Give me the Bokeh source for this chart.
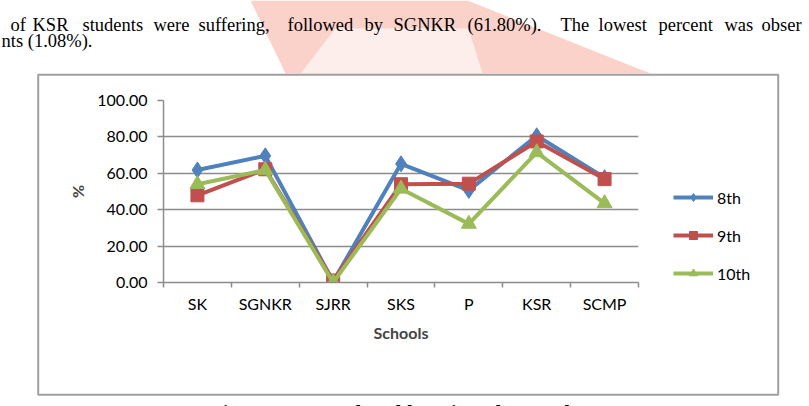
from bokeh.plotting import figure
from bokeh.models import (Range1d, FixedTicker, NumeralTickFormatter, Legend, LegendItem)
from bokeh.core.properties import value
from bokeh.embed import file_html
from bokeh.resources import INLINE

# ---- data ----
categories = ["SK", "SGNKR", "SJRR", "SKS", "P", "KSR", "SCMP"]
grade_8 = [61.8, 69.6, 0.5, 65.2, 50.6, 80.6, 57.6]
grade_9 = [47.9, 62.2, 1.08, 54.0, 54.3, 77.5, 56.8]
grade_10 = [54.0, 61.8, 0.0, 51.5, 32.2, 71.5, 43.5]
series_names = ["8th", "9th", "10th"]
y_ticks = [0, 20, 40, 60, 80, 100]

line1_words = ["of", "KSR", "students", "were", "suffering,", "followed", "by", "SGNKR",
               "(61.80%).", "The", "lowest", "percent", "was", "obser"]
line2_text = "nts (1.08%)."
caption_text = "Figure 4 Seasonal problems in Urban students"

# ---- layout / styles ----
W, H = 809, 406
FL, FR, FT, FB = 163, 638, 100, 282
line1_x = [10, 32, 82, 153, 198, 287, 364, 393, 467, 560, 598, 658, 724, 761]

GRID = "#8c8c8c"
COLORS = ["#4F81BD", "#C0504D", "#9BBB59"]
MARKERS = ["diamond", "square", "triangle"]
MSIZES = [16, 13, 15]
LW = 4
CHART_FONT = "Lato"
NAN = float("nan")

# ---------- background page (text, watermark, box, legend) ----------
bg = figure(width=W, height=H, output_backend="svg", toolbar_location=None, title=None,
            x_range=Range1d(0, W), y_range=Range1d(H, 0),
            x_axis_type=None, y_axis_type=None,
            min_border_left=0, min_border_right=0, min_border_top=0, min_border_bottom=0)
bg.grid.visible = False
bg.outline_line_color = None
bg.background_fill_color = "white"
bg.border_fill_color = "white"

# watermark
bg.patch([250, 467, 650, 285], [0, 0, 73, 73], fill_color="#fbd2ca", line_color=None)
bg.patch([300, 335, 468, 482], [73, 28, 28, 73], fill_color="#fdeeeb", line_color=None)

# chart box
bg.quad(left=[37.7], right=[777.7], top=[74.3], bottom=[394.3], fill_color=None,
        line_color="#a0a0a0", line_width=2)

# document text
bg.text(x=line1_x, y=[24.5] * len(line1_words), text=line1_words,
        text_font=value("Liberation Serif"), text_font_size=value("18.5px"),
        text_baseline="alphabetic", text_color="black")
bg.text(x=[1], y=[40], text=[line2_text], text_font=value("Liberation Serif"),
        text_font_size=value("18.5px"), text_baseline="alphabetic", text_color="black")
bg.text(x=[407], y=[412], text=[caption_text], text_font=value("Liberation Serif"),
        text_font_size=value("20px"), text_font_style="bold", text_align="center",
        text_baseline="alphabetic", text_color="black")

# legend (outside the chart frame, so it lives on the page layer)
items = []
for name, col, mk, ms in zip(series_names, COLORS, MARKERS, MSIZES):
    lr = bg.line([NAN], [NAN], line_color=col, line_width=LW)
    sr = bg.scatter([NAN], [NAN], marker=mk, size=ms, fill_color=col, line_color=col)
    items.append(LegendItem(label=name, renderers=[lr, sr]))
legend = Legend(items=items, location=(673, H - 283), orientation="vertical")
legend.border_line_color = None
legend.background_fill_alpha = 0
legend.padding = 0
legend.margin = 0
legend.spacing = 18
legend.glyph_width = 40
legend.glyph_height = 20
legend.label_height = 20
legend.label_standoff = 4
legend.label_text_font = CHART_FONT
legend.label_text_font_size = "16px"
legend.label_text_color = "black"
bg.add_layout(legend)

# ---------- chart ----------
p = figure(width=W, height=H, output_backend="svg", toolbar_location=None, title=None,
           x_range=Range1d(0, len(categories)), y_range=Range1d(0, 100),
           min_border_left=FL, min_border_right=W - FR, min_border_top=FT,
           min_border_bottom=H - FB)
p.outline_line_color = None
p.background_fill_color = "white"
p.border_fill_color = None
p.styles = {"position": "absolute", "left": "0px", "top": "0px"}

xs = [i + 0.5 for i in range(len(categories))]

xa = p.xaxis[0]
xa.ticker = FixedTicker(ticks=xs, minor_ticks=list(range(len(categories) + 1)))
xa.major_label_overrides = {x: c for x, c in zip(xs, categories)}
xa.major_tick_out = 0
xa.major_tick_in = 0
xa.minor_tick_out = 5
xa.minor_tick_in = 0
xa.minor_tick_line_color = GRID
xa.minor_tick_line_width = 1.5
xa.axis_line_color = GRID
xa.axis_line_width = 1.5
xa.major_label_text_font = CHART_FONT
xa.major_label_text_font_size = "16px"
xa.major_label_text_color = "black"
xa.major_label_standoff = 6
xa.axis_label = "Schools"
xa.axis_label_text_font = CHART_FONT
xa.axis_label_text_font_style = "bold"
xa.axis_label_text_font_size = "16px"
xa.axis_label_standoff = 7

ya = p.yaxis[0]
ya.ticker = FixedTicker(ticks=y_ticks, minor_ticks=[])
ya.formatter = NumeralTickFormatter(format="0.00")
ya.major_tick_out = 6
ya.major_tick_in = 0
ya.major_tick_line_color = GRID
ya.major_tick_line_width = 1.5
ya.minor_tick_line_color = None
ya.axis_line_color = GRID
ya.axis_line_width = 1.5
ya.major_label_text_font = CHART_FONT
ya.major_label_text_font_size = "16px"
ya.major_label_text_color = "black"
ya.major_label_standoff = 10
ya.axis_label = "%"
ya.axis_label_text_font = CHART_FONT
ya.axis_label_text_font_style = "bold"
ya.axis_label_text_font_size = "16px"
ya.axis_label_standoff = 7

p.xgrid.visible = False
p.ygrid.ticker = FixedTicker(ticks=y_ticks)
p.ygrid.grid_line_color = GRID
p.ygrid.grid_line_width = 1.5

for name, vals, col, mk, ms in zip(series_names, [grade_8, grade_9, grade_10],
                                   COLORS, MARKERS, MSIZES):
    p.line(xs, vals, line_color=col, line_width=LW)
    p.scatter(xs, vals, marker=mk, size=ms, fill_color=col, line_color=col)

open("out.html", "w").write(file_html([bg, p], INLINE))
